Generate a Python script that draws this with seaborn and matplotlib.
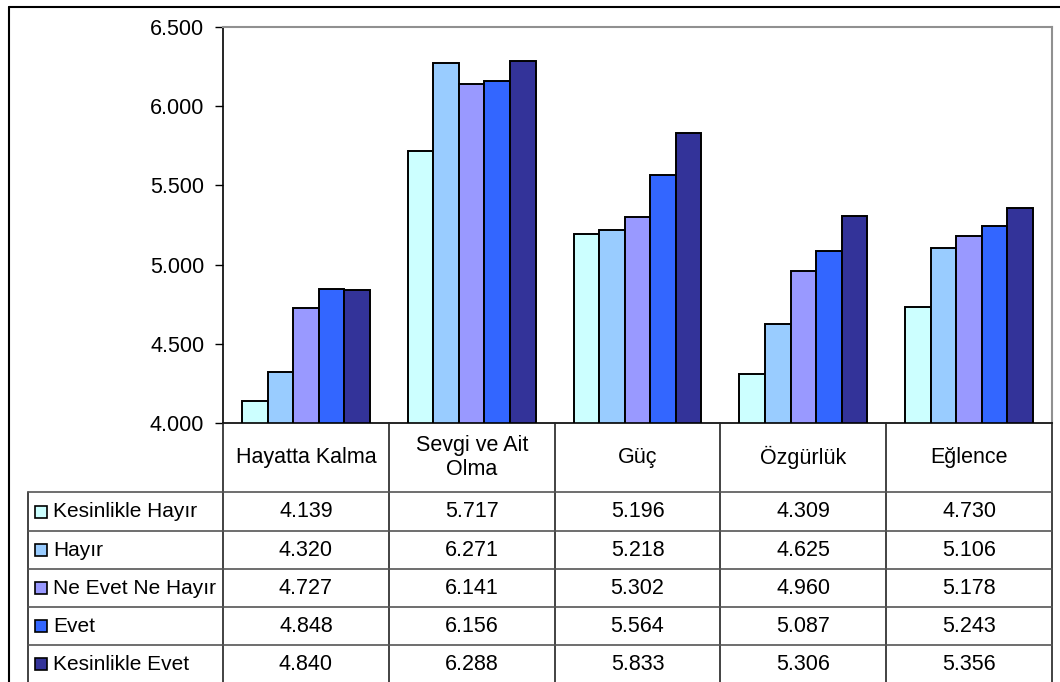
import matplotlib
matplotlib.use("Agg")
import matplotlib.pyplot as plt
from matplotlib.lines import Line2D
from matplotlib.patches import Rectangle
import seaborn as sns
import pandas as pd

categories = ["Hayatta Kalma", "Sevgi ve Ait\nOlma", "Güç", "Özgürlük", "Eğlence"]
series = ["Kesinlikle Hayır", "Hayır", "Ne Evet Ne Hayır", "Evet", "Kesinlikle Evet"]
kesinlikle_hayir = [4.139, 5.717, 5.196, 4.309, 4.730]
hayir = [4.320, 6.271, 5.218, 4.625, 5.106]
ne_evet_ne_hayir = [4.727, 6.141, 5.302, 4.960, 5.178]
evet = [4.848, 6.156, 5.564, 5.087, 5.243]
kesinlikle_evet = [4.840, 6.288, 5.833, 5.306, 5.356]
yticks = [4.0, 4.5, 5.0, 5.5, 6.0, 6.5]
colors = ["#CCFFFF", "#99CCFF", "#9999FF", "#3366FF", "#333399"]

values = [kesinlikle_hayir, hayir, ne_evet_ne_hayir, evet, kesinlikle_evet]
rows = []
for s, vals in zip(series, values):
    for c, v in zip(categories, vals):
        rows.append({"cat": c, "series": s, "value": v})
df = pd.DataFrame(rows)

sns.set_theme(style="white")
plt.rcParams["font.family"] = ["Liberation Sans", "DejaVu Sans"]
FS = 15.5
FS_LEG = 15

W, H = 1060, 682
fig = plt.figure(figsize=(W / 100, H / 100), dpi=100)
fig.patch.set_facecolor("white")

def fx(x):
    return x / W

def fy(y):
    return 1 - y / H

left, right, top, bottom = 223, 1052, 27, 423
ax = fig.add_axes([fx(left), fy(bottom), (right - left) / W, (bottom - top) / H])
sns.barplot(data=df, x="cat", y="value", hue="series", order=categories,
            hue_order=series, palette=colors, saturation=1, edgecolor="black",
            linewidth=1.4, width=0.77, gap=0, ax=ax, legend=False)
ax.set_ylim(4.0, 6.5)
ax.set_xlim(-0.5, len(categories) - 0.5)
ax.set_yticks(yticks)
ax.set_yticklabels([f"{v:.3f}" for v in yticks], fontsize=FS)
ax.set_xticks([])
ax.set_xlabel("")
ax.set_ylabel("")
ax.tick_params(axis="y", direction="out", length=5.5, width=1, color="black",
               left=True, pad=8, labelcolor="black")
for side in ["left", "bottom"]:
    ax.spines[side].set_color("black")
    ax.spines[side].set_linewidth(1.2)
for side in ["top", "right"]:
    ax.spines[side].set_color("#909090")
    ax.spines[side].set_linewidth(1.5)

def hline(x0, x1, y, color="#555555", lw=1.2):
    fig.add_artist(Line2D([fx(x0), fx(x1)], [fy(y), fy(y)], color=color, lw=lw))

def vline(x, y0, y1, color="#333333", lw=1.2):
    fig.add_artist(Line2D([fx(x), fx(x)], [fy(y0), fy(y1)], color=color, lw=lw))

# outer frame
hline(9, W, 7, color="black", lw=1.5)
vline(9, 7, H, color="black", lw=1.5)

# table grid
col_edges = [left + i * (right - left) / len(categories) for i in range(len(categories) + 1)]
row_edges = [492, 531, 569, 607, 645, 683]
for x in col_edges:
    vline(x, bottom, H, color="#222222")
vline(28, row_edges[0], H, color="#222222")
for y in row_edges[:-1]:
    hline(28, right, y)

# category header
hdr_y = (bottom + row_edges[0]) / 2
for i, c in enumerate(categories):
    cx = (col_edges[i] + col_edges[i + 1]) / 2
    fig.text(fx(cx), fy(hdr_y), c, ha="center", va="center", fontsize=FS,
             color="black", linespacing=1.15)

# rows
for r, (s, vals, col) in enumerate(zip(series, values, colors)):
    cy = (row_edges[r] + row_edges[r + 1]) / 2
    ks = 12
    fig.add_artist(Rectangle((fx(35), fy(cy + ks / 2)), ks / W, ks / H,
                             facecolor=col, edgecolor="black", lw=1.2,
                             transform=fig.transFigure))
    fig.text(fx(53), fy(cy), s, ha="left", va="center", fontsize=FS_LEG, color="black")
    for i, v in enumerate(vals):
        cx = (col_edges[i] + col_edges[i + 1]) / 2
        fig.text(fx(cx), fy(cy), f"{v:.3f}", ha="center", va="center",
                 fontsize=FS, color="black")

fig.savefig("out.png", dpi=100)
